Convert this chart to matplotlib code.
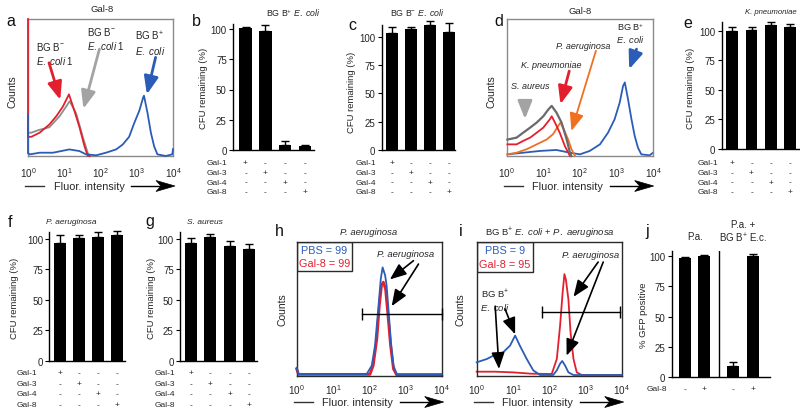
import numpy as np
import matplotlib
matplotlib.use('Agg')
import matplotlib.pyplot as plt
from matplotlib.transforms import Affine2D, blended_transform_factory
from matplotlib.patches import Polygon, Rectangle
from matplotlib.lines import Line2D
from matplotlib.ticker import NullLocator

# ---------------- data ----------------
galectins = ['Gal-1', 'Gal-3', 'Gal-4', 'Gal-8']

b_vals = [101, 98, 4.5, 3.3]
b_err = [1, 5, 3, 1]
c_vals = [103, 107, 110, 104]
c_err = [6, 1.5, 3.5, 8]
e_vals = [99.5, 101, 105, 103]
e_err = [4, 2, 2.5, 2.5]
f_vals = [97, 100.5, 102, 103.5]
f_err = [6, 2.5, 3.5, 3]
g_vals = [97, 101.5, 94, 92]
g_err = [4, 2.5, 4.5, 3.5]
j_groups = ['P.a.', 'P.a. + BG B+ E.c.']
j_gal8 = ['-', '+', '-', '+']
j_vals = [99, 100, 9, 100]
j_err = [0.8, 1, 3.5, 2]

hist_ticks = [0, 1, 2, 3, 4]

# panel a (log10 intensity, relative counts)
a_red_logx = [0.0, 0.0, 0.09, 0.32, 0.59, 0.78, 0.96, 1.13, 1.28, 1.42, 1.56, 1.65, 1.7]
a_red_y = [1.0, 0.14, 0.14, 0.17, 0.23, 0.29, 0.36, 0.45, 0.33, 0.21, 0.07, 0.0, 0.0]
a_gray_logx = [0.02, 0.09, 0.30, 0.59, 0.87, 1.05, 1.15, 1.33, 1.51, 1.65, 1.72]
a_gray_y = [0.17, 0.17, 0.19, 0.21, 0.29, 0.36, 0.40, 0.31, 0.14, 0.02, 0.0]
a_blue_logx = [0.0, 0.0, 0.05, 0.32, 0.69, 1.14, 1.42, 1.6, 1.88, 2.15, 2.43, 2.61, 2.79,
               2.93, 3.07, 3.18, 3.2, 3.3, 3.39, 3.48, 3.57, 3.8, 3.98, 4.0]
a_blue_y = [0.30, 0.02, 0.012, 0.024, 0.024, 0.048, 0.036, 0.012, 0.005, 0.024, 0.048, 0.083,
            0.14, 0.24, 0.33, 0.43, 0.44, 0.31, 0.17, 0.07, 0.012, 0.0, 0.012, 0.05]

# panel d
d_sa_logx = [0.02, 0.27, 0.45, 0.64, 0.82, 1.0, 1.14, 1.23, 1.36, 1.5, 1.64, 1.73, 1.77]
d_sa_y = [0.12, 0.134, 0.17, 0.207, 0.244, 0.29, 0.34, 0.366, 0.317, 0.244, 0.12, 0.024, 0.0]
d_kp_logx = [0.02, 0.27, 0.45, 0.64, 0.82, 1.0, 1.18, 1.23, 1.32, 1.45, 1.59, 1.73]
d_kp_y = [0.085, 0.085, 0.11, 0.134, 0.17, 0.207, 0.268, 0.29, 0.244, 0.17, 0.073, 0.0]
d_pa_logx = [0.02, 0.27, 0.55, 0.82, 1.09, 1.27, 1.41, 1.47, 1.56, 1.68, 1.77, 1.86]
d_pa_y = [0.012, 0.024, 0.05, 0.085, 0.12, 0.16, 0.22, 0.244, 0.195, 0.12, 0.05, 0.005]
d_ec_logx = [0.02, 0.45, 0.91, 1.36, 1.73, 2.0, 2.27, 2.55, 2.77, 2.95, 3.09, 3.18, 3.23,
             3.32, 3.41, 3.5, 3.59, 3.68, 3.91, 4.0]
d_ec_y = [0.012, 0.024, 0.037, 0.044, 0.024, 0.012, 0.037, 0.085, 0.17, 0.268, 0.39, 0.51,
          0.537, 0.41, 0.27, 0.146, 0.06, 0.012, 0.005, 0.024]

# panel h
h_pbs_logx = [0.0, 0.05, 1.93, 2.07, 2.16, 2.25, 2.32, 2.37, 2.44, 2.48, 2.53, 2.6, 2.67, 2.76, 4.0]
h_pbs_y = [0.06, 0.012, 0.012, 0.075, 0.225, 0.5, 0.725, 0.81, 0.75, 0.675, 0.5, 0.25, 0.075, 0.012, 0.012]
h_gal8_logx = [0.0, 0.05, 2.02, 2.11, 2.21, 2.28, 2.34, 2.39, 2.45, 2.51, 2.59, 2.67, 2.76, 4.0]
h_gal8_y = [0.05, 0.01, 0.01, 0.075, 0.275, 0.525, 0.675, 0.70, 0.65, 0.475, 0.225, 0.05, 0.005, 0.005]

# panel i
i_pbs_logx = [0.0, 0.28, 0.46, 0.73, 0.92, 1.06, 1.19, 1.38, 1.56, 1.75, 2.11, 2.21, 2.30,
              2.36, 2.44, 2.53, 2.67, 4.0]
i_pbs_y = [0.10, 0.125, 0.15, 0.175, 0.225, 0.30, 0.225, 0.125, 0.04, 0.005, 0.005, 0.04,
           0.09, 0.11, 0.075, 0.025, 0.005, 0.005]
i_gal8_logx = [0.0, 0.5, 1.0, 1.5, 2.07, 2.21, 2.30, 2.37, 2.42, 2.46, 2.53, 2.59, 2.67,
               2.76, 2.9, 4.0]
i_gal8_y = [0.03, 0.03, 0.025, 0.015, 0.013, 0.125, 0.374, 0.62, 0.76, 0.72, 0.57, 0.32,
            0.125, 0.025, 0.005, 0.005]

# ---------------- style ----------------
plt.rcParams['font.family'] = ['Liberation Sans', 'DejaVu Sans']
plt.rcParams['mathtext.fontset'] = 'custom'
plt.rcParams['mathtext.rm'] = 'Liberation Sans'
plt.rcParams['mathtext.it'] = 'Liberation Sans:italic'
plt.rcParams['mathtext.bf'] = 'Liberation Sans:bold'
plt.rcParams['mathtext.sf'] = 'Liberation Sans'

TXT = '#262626'
BLUE = '#2b5cb8'
RED = '#e41f2d'
ORANGE = '#f07022'
GRAY = '#8e8e8e'
DGRAY = '#6a6a6a'

W, H = 800, 414
fig = plt.figure(figsize=(8, 4.14), dpi=100)
PX = Affine2D().scale(1 / W, -1 / H).translate(0, 1) + fig.transFigure


def ftext(x, y, s, size=7, **kw):
    kw.setdefault('ha', 'center')
    kw.setdefault('va', 'center')
    kw.setdefault('color', TXT)
    fig.text(x, y, s, fontsize=size, transform=PX, **kw)


def letter(x, y, s):
    ftext(x, y, s, size=11.5, color='#111111')


# ---------------- bar panels ----------------
def bar_panel(l, r, y0, y100, ymax, xlim, vals, errs, positions=None, width=0.62):
    per = (y0 - y100) / 100.0
    top = y0 - ymax * per
    ax = fig.add_axes([l / W, 1 - y0 / H, (r - l) / W, (y0 - top) / H])
    if positions is None:
        positions = np.arange(len(vals))
    ax.bar(positions, vals, width=width, color='black', zorder=2)
    ax.errorbar(positions, vals, yerr=[np.zeros(len(errs)), errs], fmt='none', ecolor='black',
                elinewidth=1.0, capsize=2.6, capthick=1.0, clip_on=False, zorder=1)
    ax.set_ylim(0, ymax)
    ax.set_xlim(*xlim)
    for s in ['top', 'right']:
        ax.spines[s].set_visible(False)
    for s in ['left', 'bottom']:
        ax.spines[s].set_linewidth(1.0)
        ax.spines[s].set_color('black')
    ax.set_xticks([])
    ax.set_yticks([0, 25, 50, 75, 100])
    ax.tick_params(axis='y', length=3, width=0.8, pad=1.5, labelsize=7, labelcolor=TXT)
    ax.patch.set_alpha(0)
    return ax, positions


def sign_table(ax, positions, label_right, row_ys):
    tr = blended_transform_factory(ax.transData, PX)
    for r, (name, yy) in enumerate(zip(galectins, row_ys)):
        ftext(label_right, yy, name, size=6, ha='right')
        for i, x in enumerate(positions):
            s = '+' if i == r else '-'
            ax.text(x, yy, s, transform=tr, ha='center', va='center', fontsize=6, color=TXT,
                    clip_on=False)


top_rows = [163.5, 173.3, 183.2, 193.0]
bot_rows = [373.5, 384.3, 395.0, 405.8]

# b
ax, pos = bar_panel(233, 314, 151, 30, 104, (-0.63, 3.45), b_vals, b_err)
sign_table(ax, pos, 227, top_rows)
ftext(293, 13, 'BG B$^{+}$ $\\mathit{E.\\ coli}$', size=6.3)
ftext(203.3, 88, 'CFU remaining (%)', size=6.8, rotation=90)
letter(196, 21, 'b')

# c
ax, pos = bar_panel(381.7, 454.7, 151, 37.7, 110, (-0.54, 3.3), c_vals, c_err)
sign_table(ax, pos, 376.5, top_rows)
ftext(417, 13, 'BG B$^{-}$ $\\mathit{E.\\ coli}$', size=6.3)
ftext(351.7, 92, 'CFU remaining (%)', size=6.8, rotation=90)
letter(352.5, 26, 'c')

# e
ax, pos = bar_panel(721.7, 799, 150, 31.7, 107.4, (-0.55, 3.47), e_vals, e_err)
sign_table(ax, pos, 718, top_rows)
ftext(797, 13, 'K. pneumoniae', size=5.6, style='italic', ha='right')
ftext(690.7, 88, 'CFU remaining (%)', size=6.8, rotation=90)
letter(687.5, 24, 'e')

# f
ax, pos = bar_panel(49.3, 125, 361.7, 240, 105.5, (-0.55, 3.43), f_vals, f_err)
sign_table(ax, pos, 37, bot_rows)
ftext(71.7, 222.7, 'P. aeruginosa', size=6, style='italic')
ftext(15, 298, 'CFU remaining (%)', size=6.8, rotation=90)
letter(10, 223, 'f')

# g
ax, pos = bar_panel(180, 256.7, 361.7, 240, 105.5, (-0.54, 3.38), g_vals, g_err)
sign_table(ax, pos, 175, bot_rows)
ftext(205, 222.7, 'S. aureus', size=6, style='italic')
ftext(151.7, 298, 'CFU remaining (%)', size=6.8, rotation=90)
letter(150, 222, 'g')

# j
j_pos = np.array([0, 1, 2.5, 3.5])
ax, pos = bar_panel(671.7, 770, 377.7, 257.3, 104.7, (-0.675, 4.39), j_vals, j_err,
                    positions=j_pos, width=0.6)
ax.axvline(1.75, color='black', lw=1.0)
trj = blended_transform_factory(ax.transData, PX)
ftext(667, 390, 'Gal-8', size=6, ha='right')
for x, s in zip(j_pos, j_gal8):
    ax.text(x, 390, s, transform=trj, ha='center', va='center', fontsize=6, color=TXT,
            clip_on=False)
ftext(695, 236.7, j_groups[0], size=7)
ftext(743, 232.5, 'P.a. +\nBG B$^{+}$ E.c.', size=7, linespacing=1.15)
ftext(643, 315, '% GFP positive', size=6.8, rotation=90)
letter(647.5, 232, 'j')


# ---------------- histogram panels ----------------
def hist_panel(l, t, r, b, spine_color, pad):
    ax = fig.add_axes([l / W, 1 - b / H, (r - l) / W, (b - t) / H])
    ax.set_xscale('log')
    ax.set_xlim(1, 1e4)
    ax.set_ylim(0, 1)
    ax.set_xticks([10.0 ** k for k in hist_ticks])
    ax.set_xticklabels(['$\\mathregular{10^{%d}}$' % k for k in hist_ticks])
    ax.xaxis.set_minor_locator(NullLocator())
    ax.set_yticks([])
    ax.tick_params(axis='x', length=0, pad=pad, labelsize=7.2, labelcolor=TXT)
    for s in ax.spines.values():
        s.set_color(spine_color)
        s.set_linewidth(1.0)
    return ax


def curve(ax, logx, y, color, lw=1.3, z=2):
    ax.plot(10.0 ** np.array(logx), y, color=color, lw=lw, clip_on=False, zorder=z,
            solid_joinstyle='round')


def arrow(ax, tail, tip, color, lw=2.0, hl=0.9, hw=0.36, ms=12):
    ax.annotate('', xy=(10 ** tip[0], tip[1]), xytext=(10 ** tail[0], tail[1]),
                arrowprops=dict(arrowstyle='-|>,head_length=%g,head_width=%g' % (hl, hw),
                                mutation_scale=ms, color=color, lw=lw, shrinkA=0, shrinkB=0),
                zorder=5)


def fluor(L, y):
    fig.add_artist(Line2D([L - 3, L + 16], [y, y], color='#333333', lw=1.0, transform=PX))
    ftext(L + 61, y, 'Fluor. intensity', size=7.8)
    fig.add_artist(Line2D([L + 103, L + 134], [y, y], color='black', lw=1.0, transform=PX))
    fig.add_artist(Polygon([[L + 147, y], [L + 128, y - 5.5], [L + 133, y], [L + 128, y + 5.5]],
                           closed=True, facecolor='black', edgecolor='black', lw=0.5,
                           transform=PX))


# a
ax = hist_panel(28, 20, 173, 157, '#8a8a8a', 6.5)
curve(ax, a_gray_logx, a_gray_y, GRAY, z=2)
curve(ax, a_red_logx, a_red_y, RED, z=3)
curve(ax, a_blue_logx, a_blue_y, BLUE, z=4)
arrow(ax, (0.58, 0.68), (0.89, 0.41), RED)
arrow(ax, (1.97, 0.78), (1.53, 0.345), '#a3a3a3')
arrow(ax, (3.52, 0.72), (3.28, 0.45), BLUE)
ax.text(10 ** 0.23, 0.75, 'BG B$^{-}$\n$\\mathit{E.\\ coli}$ 1', ha='left', va='center',
        fontsize=7, color=TXT, linespacing=1.2)
ax.text(10 ** 1.62, 0.86, 'BG B$^{-}$\n$\\mathit{E.\\ coli}$ 1', ha='left', va='center',
        fontsize=7, color=TXT, linespacing=1.2)
ax.text(10 ** 3.36, 0.83, 'BG B$^{+}$\n$\\mathit{E.\\ coli}$', ha='center', va='center',
        fontsize=7, color=TXT, linespacing=1.2)
ftext(102, 10, 'Gal-8', size=6.8)
ftext(12, 92, 'Counts', size=7.5, rotation=90)
fluor(28, 187)
letter(11, 22, 'a')

# d
ax = hist_panel(506.7, 20, 653, 157, '#8a8a8a', 6.5)
curve(ax, d_ec_logx, d_ec_y, BLUE, z=2)
curve(ax, d_pa_logx, d_pa_y, ORANGE, z=3)
curve(ax, d_kp_logx, d_kp_y, RED, z=4)
curve(ax, d_sa_logx, d_sa_y, DGRAY, lw=1.6, z=5)
arrow(ax, (0.5, 0.40), (0.5, 0.27), '#a3a3a3')
arrow(ax, (1.71, 0.62), (1.47, 0.378), RED)
arrow(ax, (2.44, 0.768), (1.77, 0.183), ORANGE, lw=1.3)
arrow(ax, (3.55, 0.78), (3.35, 0.634), BLUE)
ax.text(10 ** 0.65, 0.517, 'S. aureus', ha='center', va='center', fontsize=6.5,
        style='italic', color=TXT)
ax.text(10 ** 1.23, 0.67, 'K. pneumoniae', ha='center', va='center', fontsize=6.5,
        style='italic', color=TXT)
ax.text(10 ** 2.1, 0.805, 'P. aeruginosa', ha='center', va='center', fontsize=6.5,
        style='italic', color=TXT)
ax.text(10 ** 3.38, 0.905, 'BG B$^{+}$\n$\\mathit{E.\\ coli}$', ha='center', va='center',
        fontsize=6.6, color=TXT, linespacing=1.15)
ftext(580, 12, 'Gal-8', size=6.8)
ftext(491.7, 92, 'Counts', size=7.5, rotation=90)
fluor(506.7, 187)
letter(499, 22, 'd')

# h
ax = hist_panel(296.7, 243, 441.7, 376.7, '#2a2a2a', 4.5)
curve(ax, h_gal8_logx, h_gal8_y, RED, lw=2.0, z=2)
curve(ax, h_pbs_logx, h_pbs_y, BLUE, lw=1.3, z=3)
ax.plot([10 ** 1.79, 10 ** 4.0], [0.4625, 0.4625], color='black', lw=1.0, marker='|',
        ms=8, mew=1.0, clip_on=False, zorder=4)
arrow(ax, (3.22, 0.86), (2.57, 0.72), 'black', lw=1.2, hl=1.0, hw=0.4, ms=10)
arrow(ax, (3.36, 0.835), (2.62, 0.52), 'black', lw=1.2, hl=1.0, hw=0.4, ms=10)
ax.text(10 ** 3.0, 0.915, 'P. aeruginosa', ha='center', va='center', fontsize=6.8,
        style='italic', color=TXT)
ax.add_patch(Rectangle((0, 0.785), 0.38, 0.215, transform=ax.transAxes, fill=False,
                       ec='#2a2a2a', lw=1.0, zorder=6))
ax.text(0.19, 0.94, 'PBS = 99', transform=ax.transAxes, ha='center', va='center',
        fontsize=7.8, color=BLUE)
ax.text(0.19, 0.84, 'Gal-8 = 99', transform=ax.transAxes, ha='center', va='center',
        fontsize=7.8, color=RED)
ftext(369, 233, 'P. aeruginosa', size=6.8, style='italic')
ftext(282, 310, 'Counts', size=7.5, rotation=90)
fluor(296.7, 403)
letter(279, 232, 'h')

# i
ax = hist_panel(476.7, 243, 621.7, 376.7, '#2a2a2a', 4.5)
curve(ax, i_gal8_logx, i_gal8_y, RED, lw=1.3, z=2)
curve(ax, i_pbs_logx, i_pbs_y, BLUE, lw=1.3, z=3)
ax.plot([10 ** 1.79, 10 ** 3.96], [0.474, 0.474], color='black', lw=1.0, marker='|',
        ms=8, mew=1.0, clip_on=False, zorder=4)
arrow(ax, (3.35, 0.85), (2.67, 0.59), 'black', lw=1.2, hl=1.0, hw=0.4, ms=10)
arrow(ax, (3.49, 0.85), (2.48, 0.15), 'black', lw=1.2, hl=1.0, hw=0.4, ms=10)
arrow(ax, (0.51, 0.52), (0.615, 0.05), 'black', lw=1.2, hl=1.0, hw=0.4, ms=10)
arrow(ax, (0.78, 0.50), (1.06, 0.31), 'black', lw=1.2, hl=1.0, hw=0.4, ms=10)
ax.text(10 ** 3.13, 0.91, 'P. aeruginosa', ha='center', va='center', fontsize=6.8,
        style='italic', color=TXT)
ax.text(10 ** 0.5, 0.57, 'BG B$^{+}$\n$\\mathit{E.\\ coli}$', ha='center', va='center',
        fontsize=6.8, color=TXT, linespacing=1.2)
ax.add_patch(Rectangle((0, 0.773), 0.39, 0.227, transform=ax.transAxes, fill=False,
                       ec='#2a2a2a', lw=1.0, zorder=6))
ax.text(0.195, 0.94, 'PBS = 9', transform=ax.transAxes, ha='center', va='center',
        fontsize=7.8, color=BLUE)
ax.text(0.195, 0.835, 'Gal-8 = 95', transform=ax.transAxes, ha='center', va='center',
        fontsize=7.8, color=RED)
ftext(549.7, 233, 'BG B$^{+}$ $\\mathit{E.\\ coli}$ + $\\mathit{P.\\ aeruginosa}$', size=6.8)
ftext(460, 310, 'Counts', size=7.5, rotation=90)
fluor(476.7, 403)
letter(461, 232, 'i')

fig.savefig('out.png', dpi=100)
